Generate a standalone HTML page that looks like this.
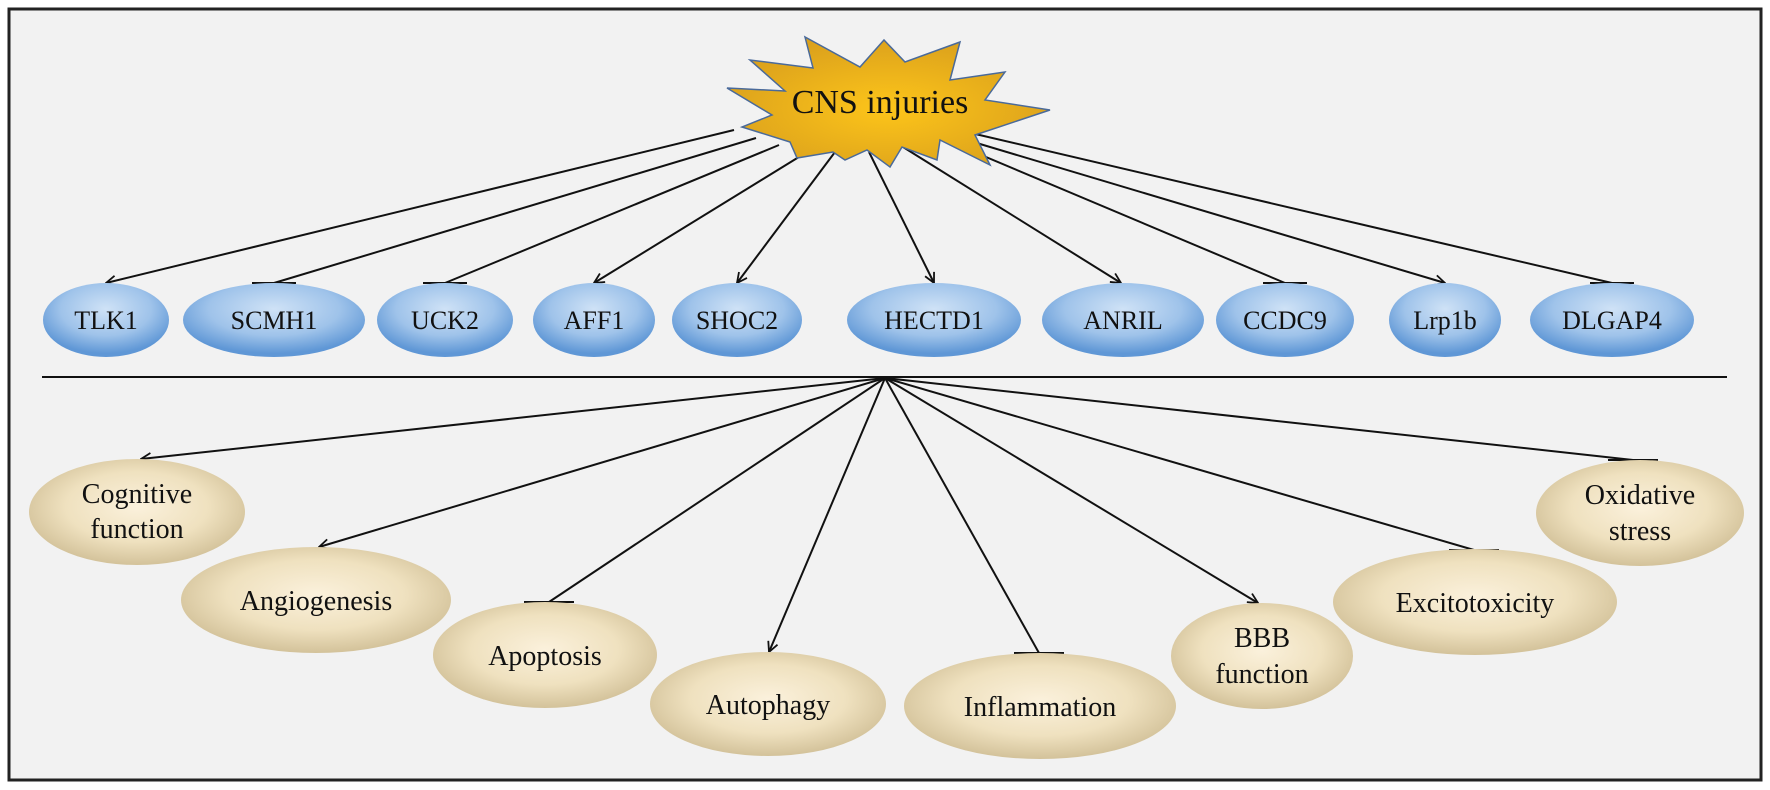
<!DOCTYPE html>
<html><head><meta charset="utf-8"><style>html,body{margin:0;padding:0;background:#fff}svg{display:block}text{font-family:"Liberation Serif",serif;fill:#111}</style></head><body>
<svg width="1770" height="790" viewBox="0 0 1770 790" xmlns="http://www.w3.org/2000/svg">
<defs>
<radialGradient id="bl" cx="50%" cy="35%" r="60%"><stop offset="0" stop-color="#cfe2f6"/><stop offset="0.6" stop-color="#9fc3ea"/><stop offset="1" stop-color="#5f97d6"/></radialGradient>
<radialGradient id="tn" cx="50%" cy="45%" r="55%"><stop offset="0" stop-color="#fbf1dc"/><stop offset="0.6" stop-color="#efe1bf"/><stop offset="1" stop-color="#d3c29a"/></radialGradient>
<radialGradient id="st" cx="50%" cy="55%" r="55%"><stop offset="0" stop-color="#fdc51a"/><stop offset="1" stop-color="#dba11c"/></radialGradient>
<marker id="ar" viewBox="0 0 12 12" refX="11" refY="6" markerWidth="12" markerHeight="12" markerUnits="userSpaceOnUse" orient="auto"><path d="M1,1 L11,6 L1,11" fill="none" stroke="#111" stroke-width="1.8"/></marker>
</defs>
<rect x="0" y="0" width="1770" height="790" fill="#fff"/>
<rect x="9" y="9" width="1752" height="771" fill="#f2f2f2" stroke="#222" stroke-width="3"/>
<g stroke="#111" stroke-width="2" fill="none">
<line x1="734" y1="130" x2="106" y2="283" marker-end="url(#ar)"/>
<line x1="756" y1="138" x2="274" y2="283"/>
<line x1="779" y1="145" x2="445" y2="283"/>
<line x1="807" y1="152" x2="594" y2="283" marker-end="url(#ar)"/>
<line x1="835" y1="152" x2="737" y2="283" marker-end="url(#ar)"/>
<line x1="869" y1="152" x2="934" y2="283" marker-end="url(#ar)"/>
<line x1="903" y1="147" x2="1121" y2="283" marker-end="url(#ar)"/>
<line x1="948" y1="141" x2="1285" y2="283"/>
<line x1="960" y1="138" x2="1445" y2="283" marker-end="url(#ar)"/>
<line x1="971" y1="133" x2="1612" y2="283"/>
<line x1="252" y1="283" x2="296" y2="283"/>
<line x1="423" y1="283" x2="467" y2="283"/>
<line x1="1263" y1="283" x2="1307" y2="283"/>
<line x1="1590" y1="283" x2="1634" y2="283"/>
<line x1="42" y1="377" x2="1727" y2="377"/>
<line x1="885" y1="378" x2="141" y2="459" marker-end="url(#ar)"/>
<line x1="885" y1="378" x2="319" y2="547" marker-end="url(#ar)"/>
<line x1="885" y1="378" x2="549" y2="602"/>
<line x1="885" y1="378" x2="769" y2="652" marker-end="url(#ar)"/>
<line x1="885" y1="378" x2="1039" y2="653"/>
<line x1="885" y1="378" x2="1258" y2="603" marker-end="url(#ar)"/>
<line x1="885" y1="378" x2="1474" y2="550"/>
<line x1="885" y1="378" x2="1633" y2="460"/>
<line x1="524" y1="602" x2="574" y2="602"/>
<line x1="1014" y1="653" x2="1064" y2="653"/>
<line x1="1449" y1="550" x2="1499" y2="550"/>
<line x1="1608" y1="460" x2="1658" y2="460"/>
</g>
<polygon points="805,37 813,68 750,60 785,91 727,88 772,115 742,127 790,142 797,158 833,152 845,160 867,150 890,167 902,147 937,160 940,140 990,165 975,135 1050,110 985,100 1005,72 950,80 960,42 905,62 884,40 860,67" fill="url(#st)" stroke="#4a6a9a" stroke-width="1.5" stroke-linejoin="miter"/>
<text x="880" y="113" font-size="34" text-anchor="middle">CNS injuries</text>
<g fill="url(#bl)">
<ellipse cx="106" cy="320" rx="63" ry="37"/>
<ellipse cx="274" cy="320" rx="91" ry="37"/>
<ellipse cx="445" cy="320" rx="68" ry="37"/>
<ellipse cx="594" cy="320" rx="61" ry="37"/>
<ellipse cx="737" cy="320" rx="65" ry="37"/>
<ellipse cx="934" cy="320" rx="87" ry="37"/>
<ellipse cx="1123" cy="320" rx="81" ry="37"/>
<ellipse cx="1285" cy="320" rx="69" ry="37"/>
<ellipse cx="1445" cy="320" rx="56" ry="37"/>
<ellipse cx="1612" cy="320" rx="82" ry="37"/>
</g>
<g font-size="26" text-anchor="middle">
<text x="106" y="329">TLK1</text>
<text x="274" y="329">SCMH1</text>
<text x="445" y="329">UCK2</text>
<text x="594" y="329">AFF1</text>
<text x="737" y="329">SHOC2</text>
<text x="934" y="329">HECTD1</text>
<text x="1123" y="329">ANRIL</text>
<text x="1285" y="329">CCDC9</text>
<text x="1445" y="329">Lrp1b</text>
<text x="1612" y="329">DLGAP4</text>
</g>
<g fill="url(#tn)">
<ellipse cx="137" cy="512" rx="108" ry="53"/>
<ellipse cx="316" cy="600" rx="135" ry="53"/>
<ellipse cx="545" cy="655" rx="112" ry="53"/>
<ellipse cx="768" cy="704" rx="118" ry="52"/>
<ellipse cx="1040" cy="706" rx="136" ry="53"/>
<ellipse cx="1262" cy="656" rx="91" ry="53"/>
<ellipse cx="1475" cy="602" rx="142" ry="53"/>
<ellipse cx="1640" cy="513" rx="104" ry="53"/>
</g>
<g font-size="28" text-anchor="middle">
<text x="137" y="503">Cognitive</text>
<text x="137" y="538">function</text>
<text x="316" y="610">Angiogenesis</text>
<text x="545" y="665">Apoptosis</text>
<text x="768" y="714">Autophagy</text>
<text x="1040" y="716">Inflammation</text>
<text x="1262" y="647">BBB</text>
<text x="1262" y="683">function</text>
<text x="1475" y="612">Excitotoxicity</text>
<text x="1640" y="504">Oxidative</text>
<text x="1640" y="540">stress</text>
</g>
</svg>
</body></html>
